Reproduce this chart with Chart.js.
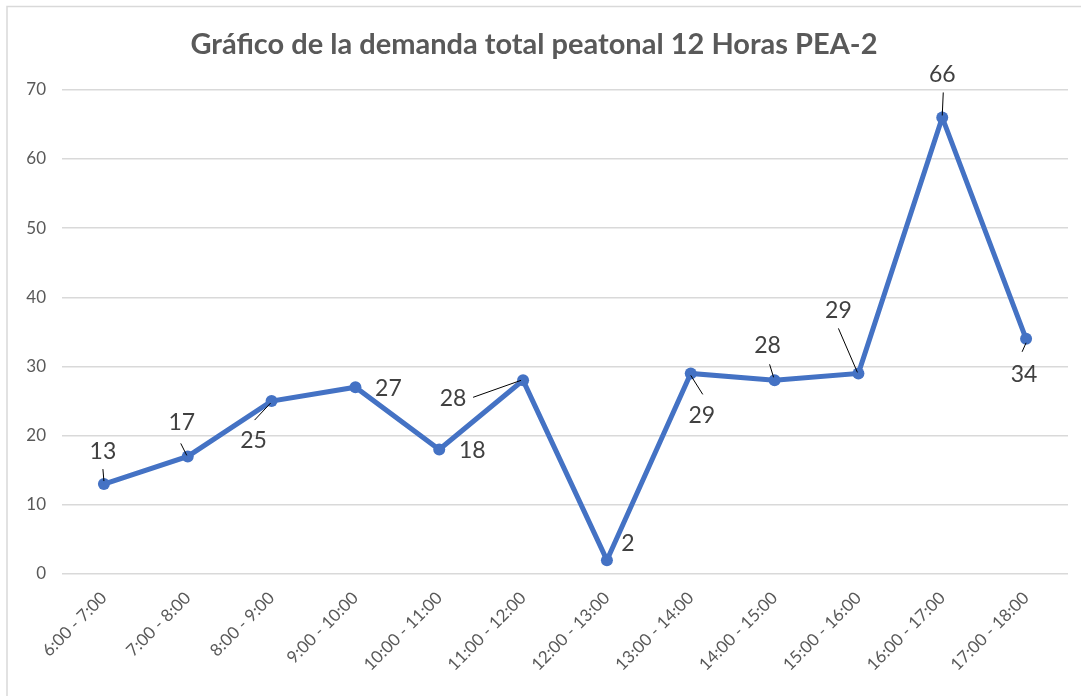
<!DOCTYPE html>
<html>
<head>
<meta charset="utf-8">
<script src="https://cdn.jsdelivr.net/npm/chart.js@4"></script>
<style>
  html, body { margin: 0; padding: 0; background: #fff; }
  #wrap { width: 1081px; height: 696px; position: relative; }
</style>
</head>
<body>
<div id="wrap"><canvas id="chart" width="1081" height="696"></canvas></div>
<script>
const horas = ["6:00 - 7:00", "7:00 - 8:00", "8:00 - 9:00", "9:00 - 10:00", "10:00 - 11:00", "11:00 - 12:00",
  "12:00 - 13:00", "13:00 - 14:00", "14:00 - 15:00", "15:00 - 16:00", "16:00 - 17:00", "17:00 - 18:00"]
const peatones = [13, 17, 25, 27, 18, 28, 2, 29, 28, 29, 66, 34]
const yTicks = [0, 10, 20, 30, 40, 50, 60, 70]

// desplazamiento de cada etiqueta respecto al punto (px) y linea guia
const labelOffsets = [[-1, -32], [-6, -34], [-18, 40], [33, 1], [33, 1], [-70, 18],
  [21, -17], [11, 42], [-7, -35], [-20, -63], [0, -43], [-2, 36]]
const leaders = [[-1, -15, 0, -3], [-7, -13, -1, -1], [-17, 19, -1, 2], null, null, [-50, 17, -2, 0],
  null, [12, 21, 0, 2], [-5, -16, -1, -3], [-20, -45, -1, -1], [1, -25, 0, -2], [0, 4, -4, 13]]

const frame = {
  id: "frame",
  beforeDraw(chart) {
    const c = chart.ctx
    c.save()
    c.strokeStyle = "#d9d9d9"
    c.lineWidth = 1.5
    c.beginPath()
    c.moveTo(7, 700)
    c.lineTo(7, 6.5)
    c.lineTo(1081, 6.5)
    c.stroke()
    c.restore()
  }
}

const dataLabels = {
  id: "dataLabels",
  afterDatasetsDraw(chart) {
    const c = chart.ctx
    const pts = chart.getDatasetMeta(0).data
    c.save()
    pts.forEach((p, i) => {
      const l = leaders[i]
      if (l) {
        c.strokeStyle = "#000"
        c.lineWidth = 1
        c.beginPath()
        c.moveTo(p.x + l[0], p.y + l[1])
        c.lineTo(p.x + l[2], p.y + l[3])
        c.stroke()
      }
      const o = labelOffsets[i]
      c.fillStyle = "#404040"
      c.font = "23px Lato"
      c.textAlign = "center"
      c.textBaseline = "middle"
      c.fillText(String(peatones[i]), p.x + o[0], p.y + o[1])
    })
    c.restore()
  }
}

new Chart(document.getElementById("chart"), {
  type: "line",
  data: {
    labels: horas,
    datasets: [{
      data: peatones,
      borderColor: "#4472C4",
      backgroundColor: "#4472C4",
      borderWidth: 5,
      pointRadius: 6,
      pointBackgroundColor: "#4472C4",
      pointBorderWidth: 0,
      tension: 0
    }]
  },
  options: {
    responsive: false,
    animation: false,
    layout: { padding: { left: 0, right: 13, top: 0, bottom: 0 } },
    plugins: {
      legend: { display: false },
      tooltip: { enabled: false },
      title: {
        display: true,
        text: "Gráfico de la demanda total peatonal 12 Horas PEA-2",
        color: "#595959",
        font: { family: "Lato", size: 29, weight: "bold" },
        padding: { top: 27, bottom: 28 }
      }
    },
    scales: {
      x: {
        offset: true,
        grid: { display: false, drawTicks: false },
        border: { display: false },
        ticks: {
          color: "#595959",
          font: { family: "Lato", size: 17 },
          minRotation: 45,
          maxRotation: 45,
          padding: 14,
          autoSkip: false
        },
        afterFit(s) { s.height = 122 }
      },
      y: {
        min: 0,
        max: 70,
        afterBuildTicks(s) { s.ticks = yTicks.map(v => ({ value: v })) },
        grid: { color: "#d9d9d9", lineWidth: 1.5, drawTicks: false },
        border: { display: false },
        ticks: {
          color: "#595959",
          font: { family: "Lato", size: 17 },
          padding: 16
        },
        afterFit(s) { s.width = 62 }
      }
    }
  },
  plugins: [frame, dataLabels]
})
</script>
</body>
</html>
